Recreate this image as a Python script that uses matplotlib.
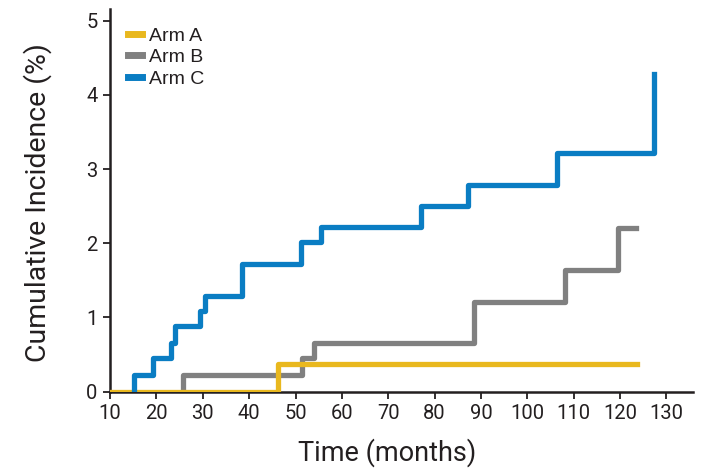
import matplotlib.pyplot as plt
from matplotlib.lines import Line2D

# step data for each arm (time in months, cumulative incidence in %)
arm_a_t = [10, 46.2, 123.7]
arm_a_y = [0, 0.37, 0.37]

arm_b_t = [25.7, 25.7, 51.4, 54.0, 88.6, 108.1, 119.6, 123.5]
arm_b_y = [0, 0.23, 0.45, 0.65, 1.21, 1.64, 2.21, 2.21]

arm_c_t = [15.2, 15.2, 19.2, 23.1, 24.0, 29.4, 30.5, 38.4, 51.2, 55.5, 77.0, 87.3, 106.5, 127.3]
arm_c_y = [0, 0.23, 0.46, 0.66, 0.88, 1.09, 1.29, 1.72, 2.02, 2.22, 2.50, 2.79, 3.21, 4.28]

x_ticks = list(range(10, 131, 10))
y_ticks = [0, 1, 2, 3, 4, 5]
labels = ["Arm A", "Arm B", "Arm C"]

ink = "#231f20"
c_a = "#E9B81E"
c_b = "#808080"
c_c = "#0A7DC3"

fig = plt.figure(figsize=(7.01, 4.73), dpi=100)
ax = fig.add_axes([0.157, 0.172, 0.832, 0.808])

lw = 3.8
ax.step(arm_b_t, arm_b_y, where="post", color=c_b, lw=lw, zorder=3)
ax.step(arm_a_t, arm_a_y, where="post", color=c_a, lw=lw, zorder=4)
ax.step(arm_c_t, arm_c_y, where="post", color=c_c, lw=lw, zorder=5)

ax.set_xlim(10, 135.8)
ax.set_ylim(0, 5.15)
ax.set_xticks(x_ticks)
ax.set_yticks(y_ticks)

for s in ["top", "right"]:
    ax.spines[s].set_visible(False)
for s in ["left", "bottom"]:
    ax.spines[s].set_linewidth(1.8)
    ax.spines[s].set_color(ink)
ax.tick_params(direction="out", length=5, width=1.3, colors=ink,
               labelsize=14.5, pad=4)
for lab in ax.get_xticklabels() + ax.get_yticklabels():
    lab.set_family("Roboto")

ax.set_xlabel("Time (months)", fontsize=19.5, family="Roboto", color=ink)
ax.xaxis.set_label_coords(0.475, -0.122)
ax.set_ylabel("Cumulative Incidence (%)", fontsize=20.5, family="Roboto", color=ink)
ax.yaxis.set_label_coords(-0.10, 0.495)

handles = [Line2D([], [], color=c, lw=5) for c in (c_a, c_b, c_c)]
leg = ax.legend(handles, labels, loc="upper left",
                bbox_to_anchor=(0.0, 1.0), frameon=False,
                prop={"family": "Liberation Sans", "size": 14},
                handlelength=0.75, handletextpad=0.35, labelspacing=0.2)
for t in leg.get_texts():
    t.set_color(ink)

fig.savefig("out.png", dpi=100)
